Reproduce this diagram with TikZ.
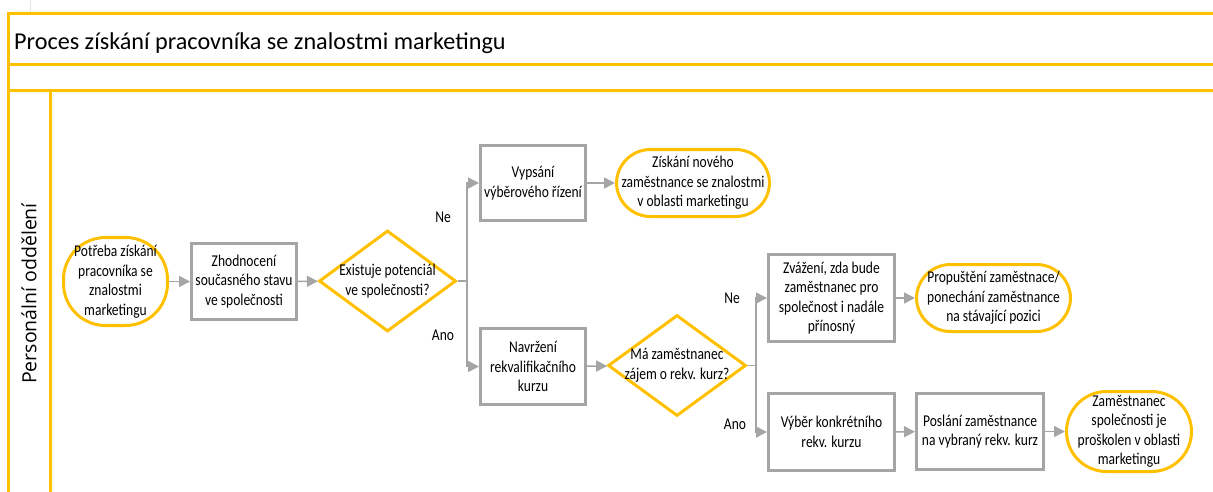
\documentclass[tikz,border=0pt]{standalone}
\usepackage{fontspec}
\setmainfont{Carlito}
\newfontfamily\boxfont{Carlito}[FakeStretch=0.82]
\newfontfamily\lanefont{Open Sans}
\usetikzlibrary{shapes.geometric,arrows.meta}
\definecolor{lanegold}{HTML}{FFC000}
\definecolor{flowgray}{HTML}{A5A5A5}

\tikzset{
  every node/.style={font=\boxfont\fontsize{16.5}{19.5}\selectfont, align=center, text=black},
  taskbox/.style={draw=flowgray, line width=3pt, inner sep=2pt},
  terminal/.style={draw=lanegold, line width=3pt, rounded corners=34pt, inner sep=2pt},
  decision/.style={draw=lanegold, line width=3pt, diamond, inner sep=0pt},
  centertext/.style={align=center},
  flow/.style={draw=flowgray, line width=1.5pt, -{Triangle[length=11pt,width=11pt]}},
  plainflow/.style={draw=flowgray, line width=1.5pt},
  frameline/.style={draw=lanegold, line width=3pt},
  branchlbl/.style={inner sep=0pt}
}

\begin{document}
\begin{tikzpicture}[x=1pt,y=-1pt]
  \useasboundingbox (0,0) rectangle (1213,491);
  \clip (0,0) rectangle (1213,491);

  % pool frame and lane
  \draw[gray!20, line width=1pt] (30,0) -- (30,12);
  \draw[frameline] (8.5,500) -- (8.5,13) -- (1230,13);
  \draw[frameline] (8.5,64.5) -- (1230,64.5);
  \draw[frameline] (8.5,90.5) -- (1230,90.5);
  \draw[frameline] (50.5,90.5) -- (50.5,500);

  \node[font=\fontsize{24.2}{28}\selectfont, anchor=base west, inner sep=0pt] (title) at (14,49) {Proces získání pracovníka se znalostmi marketingu};
  \node[font=\lanefont\fontsize{19.5}{22}\selectfont, rotate=90, inner sep=0pt] (lane) at (29,293.5) {Personální oddělení};

  % flow nodes
  \node[terminal, rounded corners=42pt, minimum width=104pt, minimum height=88pt] (t1) at (115.5,281.5) {Potřeba získání\\pracovníka se\\znalostmi\\marketingu};
  \node[taskbox, minimum width=105pt, minimum height=76pt] (n2) at (244,281.5) {Zhodnocení\\současného stavu\\ve společnosti};
  \node[decision, minimum width=137pt, minimum height=101pt,
        label={[centertext]center:Existuje potenciál\\ve společnosti?}] (d1) at (387.5,281) {};
  \node[taskbox, minimum width=105pt, minimum height=75pt] (n4) at (533,183) {Vypsání\\výběrového řízení};
  \node[taskbox, minimum width=105pt, minimum height=76pt] (n5) at (533,366.5) {Navržení\\rekvalifikačního\\kurzu};
  \node[terminal, minimum width=153pt, minimum height=67pt] (t6) at (693,183) {Získání nového\\zaměstnance se znalostmi\\v oblasti marketingu};
  \node[decision, minimum width=138pt, minimum height=101pt,
        label={[centertext]center:Má zaměstnanec\\zájem o rekv. kurz?}] (d2) at (677,365.5) {};
  \node[taskbox, minimum width=126pt, minimum height=87pt] (n8) at (831.5,298) {Zvážení, zda bude\\zaměstnanec pro\\společnost i nadále\\přínosný};
  \node[taskbox, minimum width=126pt, minimum height=77pt] (n9) at (831.5,432) {Výběr konkrétního\\rekv. kurzu};
  \node[terminal, minimum width=154pt, minimum height=67pt] (t10) at (993.5,298) {Propuštění zaměstnace/\\ponechání zaměstnance\\na stávající pozici};
  \node[taskbox, minimum width=127pt, minimum height=76pt] (n11) at (980,431.5) {Poslání zaměstnance\\na vybraný rekv. kurz};
  \node[terminal, rounded corners=40pt, minimum width=125pt, minimum height=80pt] (t12) at (1129,431.5) {Zaměstnanec\\společnosti je\\proškolen v oblasti\\marketingu};

  % connectors
  \draw[flow] (t1) -- (n2);
  \draw[flow] (n2) -- (d1);
  \draw[plainflow] (d1.east) -- (467,281) coordinate (b1);
  \draw[flow] (b1) |- (n4.west);
  \draw[flow] (b1) |- (n5.west);
  \draw[flow] (n4) -- (t6);
  \draw[flow] (n5) -- (d2);
  \draw[plainflow] (d2.east) -- (756,365.5) coordinate (b2);
  \draw[flow] (b2) |- (n8.west);
  \draw[flow] (b2) |- (n9.west);
  \draw[flow] (n8) -- (t10);
  \draw[flow] (n9) -- (n11);
  \draw[flow] (n11) -- (t12);

  % branch labels
  \node[branchlbl] (ne1) at (443,217) {Ne};
  \node[branchlbl] (ano1) at (443,335) {Ano};
  \node[branchlbl] (ne2) at (732,298) {Ne};
  \node[branchlbl] (ano2) at (735,424) {Ano};
\end{tikzpicture}
\end{document}
